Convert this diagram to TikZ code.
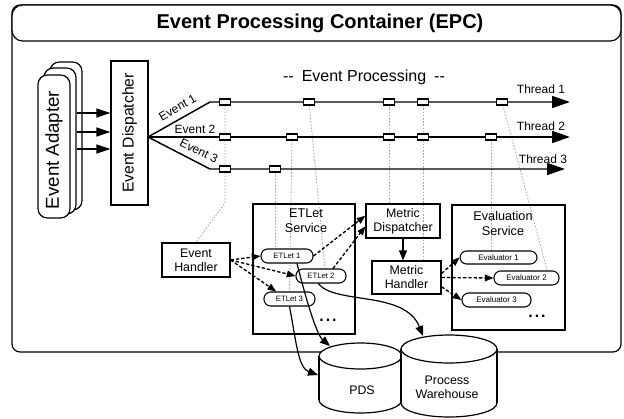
\documentclass[tikz,border=0pt]{standalone}
\usepackage{fontspec}
\setmainfont{Liberation Sans}
\usetikzlibrary{arrows.meta,calc,backgrounds}
\begin{document}
\begin{tikzpicture}[x=0.75pt,y=-0.75pt,
  frame/.style={draw, line width=0.9pt},
  box/.style={draw, line width=0.9pt, align=center, inner sep=0pt, font=\fontsize{9.3}{10.5}\selectfont},
  adp/.style={draw, line width=0.9pt, fill=white, rounded corners=7pt, inner sep=0pt},
  pill/.style={draw, line width=0.8pt, fill=white, rounded corners=5pt, inner sep=0pt, minimum height=10.5pt},
  evt/.style={draw, line width=0.8pt, fill=white, minimum width=8.5pt, minimum height=4.5pt, inner sep=0pt},
  lbl/.style={inner sep=0pt, font=\fontsize{9}{10.5}\selectfont},
  ttl/.style={inner sep=0pt, align=center, font=\fontsize{9.5}{11}\selectfont},
  dotl/.style={draw=gray!70, line width=0.6pt, dash pattern=on 1.2pt off 1.2pt},
  thr/.style={line width=1.1pt, -{Triangle[length=13.5pt,width=9pt]}},
  aarr/.style={line width=1.1pt, -{Triangle[length=10.5pt,width=6.75pt]}},
  dsh/.style={line width=1pt, dash pattern=on 2.5pt off 1.5pt, -{Triangle[length=6.5pt,width=5pt]}},
  crv/.style={line width=0.9pt, -{Triangle[length=7.5pt,width=6pt]}},
  dots/.style={inner sep=0pt, font=\fontsize{12}{12}\selectfont\bfseries}
]
\useasboundingbox (0,0) rectangle (624,418);

% container
\draw[frame, rounded corners=6pt] (12,5) rectangle (621,352);
\draw[frame, rounded corners=8pt, fill=white] (12,5) rectangle (621,41);
\node[inner sep=0pt, font=\fontsize{15}{18}\selectfont\bfseries] (title) at (320,23) {Event Processing Container (EPC)};

% event adapters
\node[adp, minimum width=24pt, minimum height=111pt] (a3) at (66,136) {};
\node[adp, minimum width=24pt, minimum height=109.5pt] (a2) at (60,141) {};
\node[adp, minimum width=24pt, minimum height=107.25pt] (a1) at (54,146.5) {};
\node[rotate=90, inner sep=0pt, font=\fontsize{14}{16}\selectfont] (adt) at (54,150) {Event Adapter};

% dispatcher
\node[box, minimum width=27.75pt, minimum height=108pt] (ed) at (129.5,133) {};
\node[rotate=90, inner sep=0pt, font=\fontsize{11.8}{14}\selectfont] (edt) at (ed) {Event Dispatcher};

\coordinate (y1) at (0,113);
\coordinate (y2) at (0,132);
\coordinate (y3) at (0,149);
\draw[aarr] (a2.east |- y1) -- (ed.west |- y1);
\draw[aarr] (a2.east |- y2) -- (ed.west |- y2);
\draw[aarr] (a2.east |- y3) -- (ed.west |- y3);

% boxes
\node[box, minimum width=51pt, minimum height=25.5pt] (eh) at (196,260) {Event\\Handler};
\node[box, minimum width=76.5pt, minimum height=97.5pt] (ets) at (304,269) {};
\node[ttl] (etst) at (306,220.5) {ETLet\\Service};
\node[box, minimum width=55.5pt, minimum height=25.5pt] (md) at (403,221) {Metric\\Dispatcher};
\node[box, minimum width=51.75pt, minimum height=24.75pt] (mh) at (406.5,277.5) {Metric\\Handler};
\node[box, minimum width=84.75pt, minimum height=93.75pt] (evs) at (508.5,267.5) {};
\node[ttl] (evst) at (503,223.5) {Evaluation\\Service};

% thread coordinates
\coordinate (fan) at (148,137);
\coordinate (k1) at (210,102);
\coordinate (k3) at (210,169);
\coordinate (t1end) at (570,102);
\coordinate (t2end) at (570,137);
\coordinate (t3end) at (565,169);

\coordinate (p1a) at (225,102); \coordinate (p1b) at (309,102); \coordinate (p1c) at (389,102);
\coordinate (p1d) at (423,102); \coordinate (p1e) at (502,102);
\coordinate (p2a) at (225,137); \coordinate (p2b) at (292,137); \coordinate (p2c) at (389,137);
\coordinate (p2d) at (423,137); \coordinate (p2e) at (491,137);
\coordinate (p3a) at (225,169); \coordinate (p3b) at (275,169);

% pills
\node[pill, minimum width=39pt, font=\fontsize{5.8}{7}\selectfont] (et1) at (287,256) {ETLet 1};
\node[pill, minimum width=37.5pt, font=\fontsize{5.8}{7}\selectfont] (et2) at (321,276) {ETLet 2};
\node[pill, minimum width=38.25pt, font=\fontsize{5.8}{7}\selectfont] (et3) at (289.5,299) {ETLet 3};
\node[pill, minimum width=57.75pt, minimum height=9.75pt, font=\fontsize{6}{7}\selectfont] (ev1) at (498.5,257.5) {Evaluator 1};
\node[pill, minimum width=48.75pt, font=\fontsize{6}{7}\selectfont] (ev2) at (526.5,278) {Evaluator 2};
\node[pill, minimum width=51.75pt, font=\fontsize{6}{7}\selectfont] (ev3) at (496.5,300) {Evaluator 3};

% dotted event links (behind everything)
\begin{scope}[on background layer]
\coordinate (c1) at (225,203);
\draw[dotl] (p1a) -- (c1) -- (eh.north);
\draw[dotl] (p3b) -- (p3b |- et1.north);
\draw[dotl] (p2b) -- (et3.north);
\draw[dotl] (p1b) -- ([xshift=3pt]et2.north);
\draw[dotl] (p1c) -- (p1c |- md.north);
\draw[dotl] (p1d) -- (p1d |- mh.north);
\draw[dotl] (p2e) -- (p2e |- ev1.north);
\draw[dotl] (p1e) -- ([xshift=15.5pt]ev2.north);
\end{scope}

% threads
\draw[thr] (fan) -- (k1) -- (t1end);
\draw[thr] (fan) -- (t2end);
\draw[thr] (fan) -- (k3) -- (t3end);

\foreach \p in {p1a,p1b,p1c,p1d,p1e,p2a,p2b,p2c,p2d,p2e,p3a,p3b}
  \node[evt] (b\p) at (\p) {};

% labels
\node[font=\fontsize{12}{14}\selectfont, inner sep=0pt] (ep) at (364,77) {-{}-\enspace Event Processing\enspace -{}-};
\node[lbl, rotate=29.5] (l1) at (177.5,107.5) {Event 1};
\node[lbl] (l2) at (195,129.5) {Event 2};
\node[lbl, rotate=-26.6] (l3) at (199,151) {Event 3};
\node[lbl] (th1) at (541,89) {Thread 1};
\node[lbl] (th2) at (541,126) {Thread 2};
\node[lbl] (th3) at (543,159) {Thread 3};

\node[dots] (d1) at (328,320) {.\hspace{1.5pt}.\hspace{1.5pt}.};
\node[dots] (d2) at (537,316) {.\hspace{1.5pt}.\hspace{1.5pt}.};

% dashed arrows
\draw[dsh] (eh.east) -- (et1.west);
\draw[dsh] (eh.east) -- (et2.west);
\draw[dsh] (eh.east) -- ([xshift=-10pt]et3.north);
\draw[dsh] (et1.east) -- ([yshift=4pt]md.west);
\draw[dsh] ([xshift=9pt]et2.north) -- ([yshift=-4pt]md.west);
\draw[dsh] ([yshift=3pt]mh.east) -- (ev1.west);
\draw[dsh] (mh.east) -- (ev2.west);
\draw[dsh] ([yshift=-7pt]mh.east) -- (ev3.west);
\draw[crv] (md.south) -- (md.south |- mh.north);

% cylinders
\draw[line width=0.9pt, fill=white] (360.5,400) ellipse [x radius=41.5, y radius=13];
\fill[white] (319,356) rectangle (402,400);
\draw[line width=0.9pt] (319,356) -- (319,400) (402,356) -- (402,400);
\draw[line width=0.9pt, fill=white] (360.5,356) ellipse [x radius=41.5, y radius=13];
\node[lbl, font=\fontsize{9.3}{10.5}\selectfont] (pds) at (362,390) {PDS};

\draw[line width=0.9pt, fill=white] (449,403) ellipse [x radius=48, y radius=14];
\fill[white] (401,349) rectangle (497,403);
\draw[line width=0.9pt] (401,349) -- (401,403) (497,349) -- (497,403);
\draw[line width=0.9pt, fill=white] (449,349) ellipse [x radius=48, y radius=14];
\node[ttl, font=\fontsize{9.3}{10.5}\selectfont] (pw) at (447,387) {Process\\Warehouse};
\coordinate (pdstop) at (330,346);
\coordinate (pdsleft) at (318,375);
\coordinate (pwtop) at (423,336);

% solid curves
\draw[crv] ([xshift=7.5pt]et1.south) .. controls (305,295) and (316,334) .. (pdstop);
\draw[crv] (et3.south) .. controls (296,340) and (298,368) .. (pdsleft);
\draw[crv] ([xshift=-2pt]et2.south) .. controls (335,305) and (405,290) .. (pwtop);
\end{tikzpicture}
\end{document}
